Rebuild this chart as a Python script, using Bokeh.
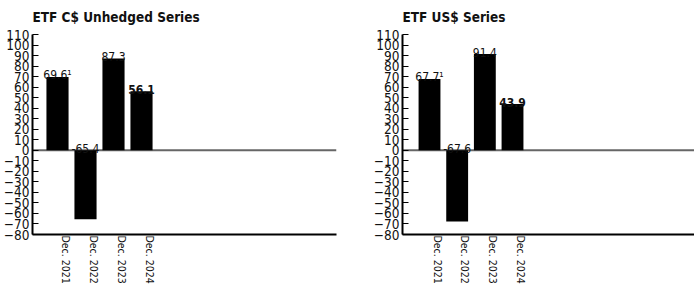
from bokeh.plotting import figure
from bokeh.models import Range1d, FixedTicker, Span, ColumnDataSource
from bokeh.layouts import row
from bokeh.embed import file_html
from bokeh.resources import INLINE
from bokeh.core.properties import value, field

# ---- data ----
categories = ["Dec. 2021", "Dec. 2022", "Dec. 2023", "Dec. 2024"]
cad_values = [69.6, -65.4, 87.3, 56.1]
usd_values = [67.7, -67.6, 91.4, 43.9]
footnotes = ["\u00b9", "", "", ""]
y_ticks = list(range(-80, 111, 10))
titles = ["ETF C$ Unhedged Series", "ETF US$ Series"]

NARROW = "DejaVu Sans Condensed"
BAR_SHIFT = 0.29  # bars sit slightly left of their labels


def make(title, values, frame_w, border_left, border_right, x_start, x_end):
    positions = list(range(1, len(categories) + 1))
    bar_x = [x - BAR_SHIFT for x in positions]
    labels = [f"{v:.1f}{n}" for v, n in zip(values, footnotes)]
    label_y = [max(v, 0) for v in values]
    styles = ["bold" if i == len(values) - 1 else "normal" for i in range(len(values))]
    src = ColumnDataSource(dict(x=bar_x, top=values, label=labels, ly=label_y, style=styles))

    p = figure(frame_width=frame_w, frame_height=200, output_backend="svg", toolbar_location=None,
               x_range=Range1d(x_start, x_end), y_range=Range1d(-80, 110),
               min_border_left=border_left, min_border_right=border_right,
               min_border_top=26, min_border_bottom=50, title=title)
    p.title.text_font = NARROW
    p.title.text_font_size = "13.5px"
    p.title.text_font_style = "bold"
    p.title.text_color = "#111111"
    p.title.align = "left"
    p.title.vertical_align = "top"
    p.title.offset = 0
    p.title.standoff = 16

    p.outline_line_color = None
    p.xgrid.visible = False
    p.ygrid.visible = False
    p.background_fill_color = "white"
    p.border_fill_color = "white"

    p.add_layout(Span(location=0, dimension="width", line_color="#666666",
                      line_width=2, level="underlay"))

    p.vbar(x="x", top="top", bottom=0, width=0.79, source=src,
           fill_color="black", line_color=None)

    p.text(x="x", y="ly", text="label", source=src, text_align="center",
           text_baseline="alphabetic", y_offset=-2, text_font=value(NARROW),
           text_font_size="12px", text_font_style=field("style"), text_color="#111111")

    ya = p.yaxis[0]
    ya.ticker = FixedTicker(ticks=y_ticks)
    ya.major_tick_in = 6
    ya.major_tick_out = 0
    ya.minor_tick_in = 0
    ya.minor_tick_out = 0
    ya.axis_line_width = 2
    ya.axis_line_color = "black"
    ya.major_tick_line_color = "black"
    ya.major_tick_line_width = 1
    ya.major_label_standoff = 3
    ya.major_label_text_font = NARROW
    ya.major_label_text_font_size = "13.5px"
    ya.major_label_text_color = "#111111"

    xa = p.xaxis[0]
    xa.ticker = FixedTicker(ticks=positions)
    xa.major_label_overrides = {pos: cat for pos, cat in zip(positions, categories)}
    xa.major_label_orientation = "vertical"
    xa.major_tick_in = 0
    xa.major_tick_out = 0
    xa.minor_tick_in = 0
    xa.minor_tick_out = 0
    xa.axis_line_width = 2
    xa.axis_line_color = "black"
    xa.major_label_standoff = 1
    xa.major_label_text_font = NARROW
    xa.major_label_text_font_size = "10.5px"
    xa.major_label_text_color = "#111111"
    return p


p1 = make(titles[0], cad_values, 304, 26, 34, -0.183, 10.674)
p2 = make(titles[1], usd_values, 292, 26, 0, -0.266, 10.287)
layout = row(p1, p2)

open("out.html", "w").write(file_html(layout, INLINE))
